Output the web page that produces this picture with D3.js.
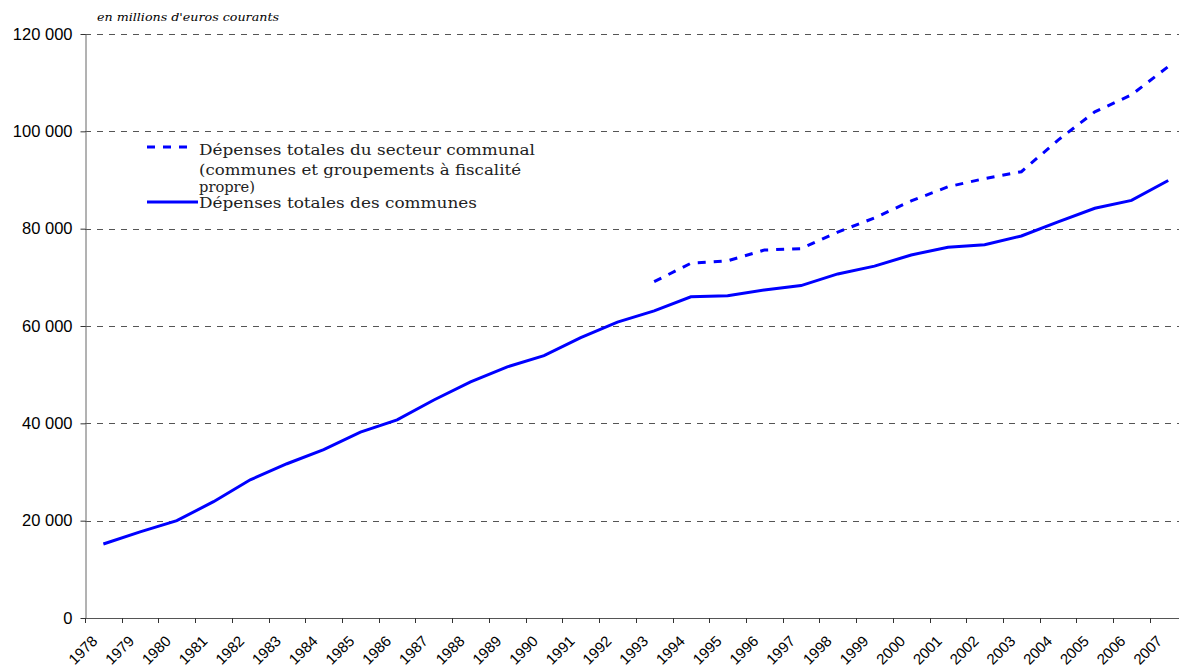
<!DOCTYPE html>
<html>
<head>
<meta charset="utf-8">
<script src="https://cdn.jsdelivr.net/npm/d3@7"></script>
<style>
  body { margin: 0; background: #fff; }
  svg { display: block; }
</style>
</head>
<body>
<svg id="chart" width="1179" height="669"></svg>
<script>
const years = [1978, 1979, 1980, 1981, 1982, 1983, 1984, 1985, 1986, 1987, 1988, 1989, 1990, 1991, 1992,
  1993, 1994, 1995, 1996, 1997, 1998, 1999, 2000, 2001, 2002, 2003, 2004, 2005, 2006, 2007];

// Dépenses totales des communes
const communes = [15200, 17700, 20000, 23900, 28400, 31700, 34600, 38200, 40700, 44800, 48500, 51600, 53900, 57600, 60800,
  63100, 66000, 66200, 67400, 68300, 70700, 72300, 74600, 76200, 76700, 78500, 81400, 84200, 85800, 89900];

// Dépenses totales du secteur communal (from 1993)
const secteurYears = [1993, 1994, 1995, 1996, 1997, 1998, 1999, 2000, 2001, 2002, 2003, 2004, 2005, 2006, 2007];
const secteur = [69100, 72900, 73400, 75600, 75900, 79300, 82200, 85700, 88600, 90300, 91700, 98200, 104000, 107500, 113300];

const yTicks = [0, 20000, 40000, 60000, 80000, 100000, 120000];
const legendLabels = [
  ["Dépenses totales du secteur communal", "(communes et groupements à fiscalité", "propre)"],
  ["Dépenses totales des communes"]
];
const unitLabel = "en millions d'euros courants";

const svg = d3.select('#chart');
const plotLeft = 85, plotTop = 34, plotBottom = 618, plotRight = 1186.6;

const x = d3.scaleBand().domain(years).range([plotLeft, plotRight]);
const y = d3.scaleLinear().domain([0, 120000]).range([plotBottom, plotTop]);
const fr = d3.formatLocale({ decimal: ',', thousands: '\u00a0', grouping: [3], currency: ['', ''] });
const fmt = fr.format(',d');

// gridlines
svg.append('g')
  .selectAll('line')
  .data(yTicks.filter(d => d > 0))
  .join('line')
  .attr('x1', plotLeft)
  .attr('x2', 1179)
  .attr('y1', d => Math.round(y(d)) + 0.5)
  .attr('y2', d => Math.round(y(d)) + 0.5)
  .attr('stroke', '#555')
  .attr('stroke-width', 1)
  .attr('stroke-dasharray', '6,6');

// y axis
const yAxis = svg.append('g')
  .attr('transform', `translate(${plotLeft + 0.5},0)`)
  .call(d3.axisLeft(y).tickValues(yTicks).tickSize(5).tickSizeOuter(0).tickPadding(8).tickFormat(fmt));
yAxis.select('.domain').attr('stroke', '#666');
yAxis.selectAll('.tick line').attr('stroke', '#333');
yAxis.selectAll('text')
  .attr('font-family', 'Liberation Sans, Arial, sans-serif')
  .attr('font-size', 16.5)
  .attr('fill', '#000');

// x axis
svg.append('line')
  .attr('x1', plotLeft)
  .attr('x2', 1179)
  .attr('y1', plotBottom + 0.5)
  .attr('y2', plotBottom + 0.5)
  .attr('stroke', '#555');
svg.append('g')
  .selectAll('line')
  .data(years)
  .join('line')
  .attr('x1', d => Math.round(x(d)) + 0.5)
  .attr('x2', d => Math.round(x(d)) + 0.5)
  .attr('y1', plotBottom)
  .attr('y2', plotBottom + 5)
  .attr('stroke', '#333');
svg.append('g')
  .selectAll('text')
  .data(years)
  .join('text')
  .attr('transform', d => `translate(${x(d) + x.bandwidth() / 2 - 5},${plotBottom + 24}) rotate(-45)`)
  .attr('text-anchor', 'end')
  .attr('font-family', 'Liberation Sans, Arial, sans-serif')
  .attr('font-size', 15)
  .text(d => d);

// lines
const line = d3.line()
  .x(d => x(d[0]) + x.bandwidth() / 2)
  .y(d => y(d[1]));

svg.append('path')
  .datum(years.map((yr, i) => [yr, communes[i]]))
  .attr('d', line)
  .attr('fill', 'none')
  .attr('stroke', '#0000ff')
  .attr('stroke-width', 3);

svg.append('path')
  .datum(secteurYears.map((yr, i) => [yr, secteur[i]]))
  .attr('d', line)
  .attr('fill', 'none')
  .attr('stroke', '#0000ff')
  .attr('stroke-width', 3)
  .attr('stroke-dasharray', '8,8');

// unit label
svg.append('text')
  .attr('x', 97)
  .attr('y', 21)
  .attr('font-family', 'DejaVu Serif, serif')
  .attr('font-style', 'italic')
  .attr('font-size', 11.5)
  .attr('textLength', 182)
  .attr('lengthAdjust', 'spacingAndGlyphs')
  .text(unitLabel);

// legend
const legend = svg.append('g').attr('font-family', 'DejaVu Serif, serif').attr('font-size', 15.5);
const lineWidths = [[336, 322, 56], [278]];
legend.append('line')
  .attr('x1', 147).attr('x2', 195).attr('y1', 147).attr('y2', 147)
  .attr('stroke', '#0000ff').attr('stroke-width', 3).attr('stroke-dasharray', '8,8');
legend.append('line')
  .attr('x1', 147).attr('x2', 198).attr('y1', 202).attr('y2', 202)
  .attr('stroke', '#0000ff').attr('stroke-width', 3);
const baselines = [[155, 175, 192], [208]];
legendLabels.forEach((lines, i) => {
  lines.forEach((t, j) => {
    legend.append('text')
      .attr('x', 199)
      .attr('y', baselines[i][j])
      .attr('fill', '#222')
      .attr('textLength', lineWidths[i][j])
      .attr('lengthAdjust', 'spacingAndGlyphs')
      .text(t);
  });
});
</script>
</body>
</html>
